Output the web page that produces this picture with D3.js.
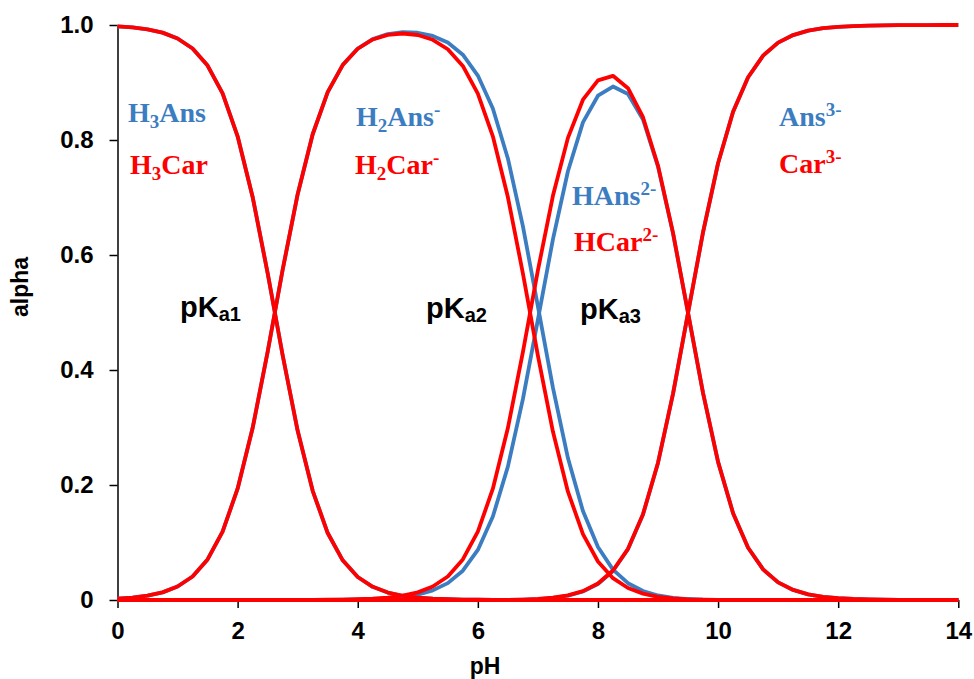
<!DOCTYPE html>
<html>
<head>
<meta charset="utf-8">
<script src="https://cdn.jsdelivr.net/npm/d3@7"></script>
<style>
  body { margin: 0; background: #fff; }
  svg { display: block; }
  .axis text { font-family: Arial, "Liberation Sans", sans-serif; font-weight: bold; font-size: 24px; fill: #000; }
  .axis path, .axis line { stroke: #000; stroke-width: 1.5; }
  .title { font-family: Arial, "Liberation Sans", sans-serif; font-weight: bold; font-size: 23px; }
  .species { font-family: "Times New Roman", "Liberation Serif", serif; font-weight: bold; font-size: 28px; }
  .pk { font-family: Arial, "Liberation Sans", sans-serif; font-weight: bold; font-size: 29px; }
</style>
</head>
<body>
<svg width="974" height="679"></svg>
<script>
// pH grid, 0 to 14 every 0.25
var pH = [0,0.25,0.5,0.75,1,1.25,1.5,1.75,2,2.25,2.5,2.75,3,3.25,3.5,3.75,4,4.25,4.5,4.75,
  5,5.25,5.5,5.75,6,6.25,6.5,6.75,7,7.25,7.5,7.75,8,8.25,8.5,8.75,9,9.25,9.5,9.75,
  10,10.25,10.5,10.75,11,11.25,11.5,11.75,12,12.25,12.5,12.75,13,13.25,13.5,13.75,14];

// Ans (blue)
var h3Ans = [0.9976,0.9957,0.9925,0.9867,0.9766,0.9591,0.9295,0.8811,0.8065,0.7010,0.5686,0.4257,0.2942,0.1899,
  0.1165,0.0690,0.0400,0.0229,0.0130,0.0074,0.0042,0.0023,0.0013,0.0007,0.0004,0.0002,0.0001,
  0,0,0,0,0,0,0,0,0,0,0,0,0,0,0,0,0,0,0,0,0,0,0,0,0,0,0,0,0,0];
var h2Ans = [0.0024,0.0043,0.0075,0.0133,0.0234,0.0409,0.0705,0.1189,0.1935,0.2990,0.4314,0.5743,0.7057,0.8100,
  0.8833,0.9306,0.9591,0.9755,0.9841,0.9874,0.9865,0.9810,0.9694,0.9484,0.9121,0.8547,0.7679,0.6502,
  0.5107,0.3693,0.2469,0.1547,0.0921,0.0528,0.0292,0.0156,0.0079,0.0038,0.0017,0.0007,0.0003,0.0001,
  0,0,0,0,0,0,0,0,0,0,0,0,0,0,0];
var hAns = [0,0,0,0,0,0,0,0,0,0,0,0,0,0,
  0.0003,0.0005,0.0009,0.0017,0.0030,0.0053,0.0094,0.0167,0.0293,0.0509,0.0871,0.1451,0.2319,0.3492,
  0.4877,0.6271,0.7456,0.8307,0.8770,0.8930,0.8800,0.8358,0.7537,0.6376,0.4992,0.3597,0.2402,0.1510,
  0.0909,0.0532,0.0307,0.0175,0.0099,0.0056,0.0032,0.0018,0.0010,0.0006,0.0003,0.0002,0.0001,0,0];
var ans = [0,0,0,0,0,0,0,0,0,0,0,0,0,0,0,0,0,0,0,0,0,0,0,0,0,0,0,
  0.0006,0.0015,0.0035,0.0075,0.0148,0.0278,0.0504,0.0883,0.1486,0.2384,0.3586,0.4992,0.6396,0.7596,
  0.8490,0.9091,0.9468,0.9693,0.9825,0.9901,0.9944,0.9968,0.9982,0.9990,0.9994,0.9997,0.9998,0.9999,1,1];

// Car (red)
var h3Car = [0.9976,0.9957,0.9925,0.9867,0.9766,0.9591,0.9295,0.8811,0.8065,0.7010,0.5686,0.4257,0.2942,0.1899,
  0.1165,0.0690,0.0400,0.0229,0.0130,0.0074,0.0042,0.0023,0.0013,0.0007,0.0004,0.0002,0.0001,
  0,0,0,0,0,0,0,0,0,0,0,0,0,0,0,0,0,0,0,0,0,0,0,0,0,0,0,0,0,0];
var h2Car = [0.0024,0.0043,0.0075,0.0133,0.0234,0.0409,0.0705,0.1189,0.1935,0.2990,0.4314,0.5743,0.7057,0.8100,
  0.8832,0.9303,0.9587,0.9748,0.9829,0.9852,0.9826,0.9743,0.9578,0.9288,0.8808,0.8065,0.7008,0.5682,
  0.4250,0.2930,0.1884,0.1147,0.0670,0.0380,0.0209,0.0111,0.0056,0.0027,0.0012,0.0005,0.0002,
  0,0,0,0,0,0,0,0,0,0,0,0,0,0,0,0];
var hCar = [0,0,0,0,0,0,0,0,0,0,0,0,0,0,
  0.0004,0.0007,0.0013,0.0023,0.0042,0.0075,0.0133,0.0234,0.0409,0.0705,0.1188,0.1935,0.2990,0.4310,
  0.5733,0.7029,0.8037,0.8701,0.9038,0.9116,0.8901,0.8396,0.7553,0.6384,0.4994,0.3598,0.2402,0.1510,
  0.0909,0.0532,0.0307,0.0175,0.0099,0.0056,0.0032,0.0018,0.0010,0.0006,0.0003,0.0002,0.0001,0,0];
var car = [0,0,0,0,0,0,0,0,0,0,0,0,0,0,0,0,0,0,0,0,0,0,0,0,0,0,
  0.0003,0.0008,0.0018,0.0040,0.0080,0.0155,0.0286,0.0513,0.0890,0.1493,0.2388,0.3590,0.4994,0.6398,0.7596,
  0.8490,0.9091,0.9468,0.9693,0.9825,0.9901,0.9944,0.9968,0.9982,0.9990,0.9994,0.9997,0.9998,0.9999,1,1];

var xTicks = [0,2,4,6,8,10,12,14];
var yTicks = [0,0.2,0.4,0.6,0.8,1.0];
var yTickLabels = ["0","0.2","0.4","0.6","0.8","1.0"];

var blue = '#3b7dc0', red = '#ff0000';

var svg = d3.select('svg');
var x = d3.scaleLinear().domain([0,14]).range([117.5,958.3]);
var y = d3.scaleLinear().domain([0,1]).range([600,25]);

// axes
svg.append('g').attr('class','axis')
	.attr('transform','translate(0,600)')
	.call(d3.axisBottom(x).tickValues(xTicks).tickSize(8).tickPadding(14).tickSizeOuter(0));
svg.append('g').attr('class','axis')
	.attr('transform','translate(117.5,0)')
	.call(d3.axisLeft(y).tickValues(yTicks).tickSize(8).tickPadding(16).tickSizeOuter(0)
		.tickFormat(function(d,i){ return yTickLabels[i]; }));

svg.append('text').attr('class','title')
	.attr('text-anchor','middle')
	.attr('x',485).attr('y',674)
	.text('pH');
svg.append('text').attr('class','title')
	.attr('text-anchor','middle')
	.attr('transform','translate(28,287) rotate(-90)')
	.text('alpha');

// curves: blue first, red over it
var line = d3.line()
	.x(function(d,i){ return x(pH[i]); })
	.y(function(d){ return y(d); });

var series = [
	{values:h3Ans, color:blue}, {values:h2Ans, color:blue}, {values:hAns, color:blue}, {values:ans, color:blue},
	{values:h3Car, color:red}, {values:h2Car, color:red}, {values:hCar, color:red}, {values:car, color:red}
];

svg.append('g').selectAll('path')
	.data(series)
	.enter().append('path')
	.attr('d',function(d){ return line(d.values); })
	.attr('fill','none')
	.attr('stroke',function(d){ return d.color; })
	.attr('stroke-width',3.8)
	.attr('stroke-linejoin','round');

// species labels: [text parts, position, color]
var labels = [
	{parts:[['H'],['3','sub'],['Ans']], x:128, y:122, color:blue},
	{parts:[['H'],['3','sub'],['Car']], x:130, y:174, color:red},
	{parts:[['H'],['2','sub'],['Ans'],['-','sup']], x:356, y:126, color:blue},
	{parts:[['H'],['2','sub'],['Car'],['-','sup']], x:355, y:174, color:red},
	{parts:[['HAns'],['2-','sup']], x:572, y:205, color:blue},
	{parts:[['HCar'],['2-','sup']], x:574, y:251, color:red},
	{parts:[['Ans'],['3-','sup']], x:779, y:126, color:blue},
	{parts:[['Car'],['3-','sup']], x:779, y:173, color:red}
];

labels.forEach(function(l){
	var t = svg.append('text').attr('class','species')
		.attr('x',l.x).attr('y',l.y).attr('fill',l.color);
	var shift = 0;
	l.parts.forEach(function(p){
		var dy = 0, fs = null;
		if(p[1]==='sub'){ dy = 6; fs = 19; }
		if(p[1]==='sup'){ dy = -10; fs = 19; }
		t.append('tspan')
			.attr('dy', dy - shift)
			.attr('font-size', fs)
			.text(p[0]);
		shift = dy;
	});
});

// pKa markers
var pkLabels = [
	{sub:'a1', x:180, y:317},
	{sub:'a2', x:426, y:318},
	{sub:'a3', x:580, y:319}
];
pkLabels.forEach(function(p){
	var t = svg.append('text').attr('class','pk').attr('x',p.x).attr('y',p.y).attr('fill','#000');
	t.append('tspan').text('pK');
	t.append('tspan').attr('dy',4).attr('font-size',20).text(p.sub);
});
</script>
</body>
</html>
